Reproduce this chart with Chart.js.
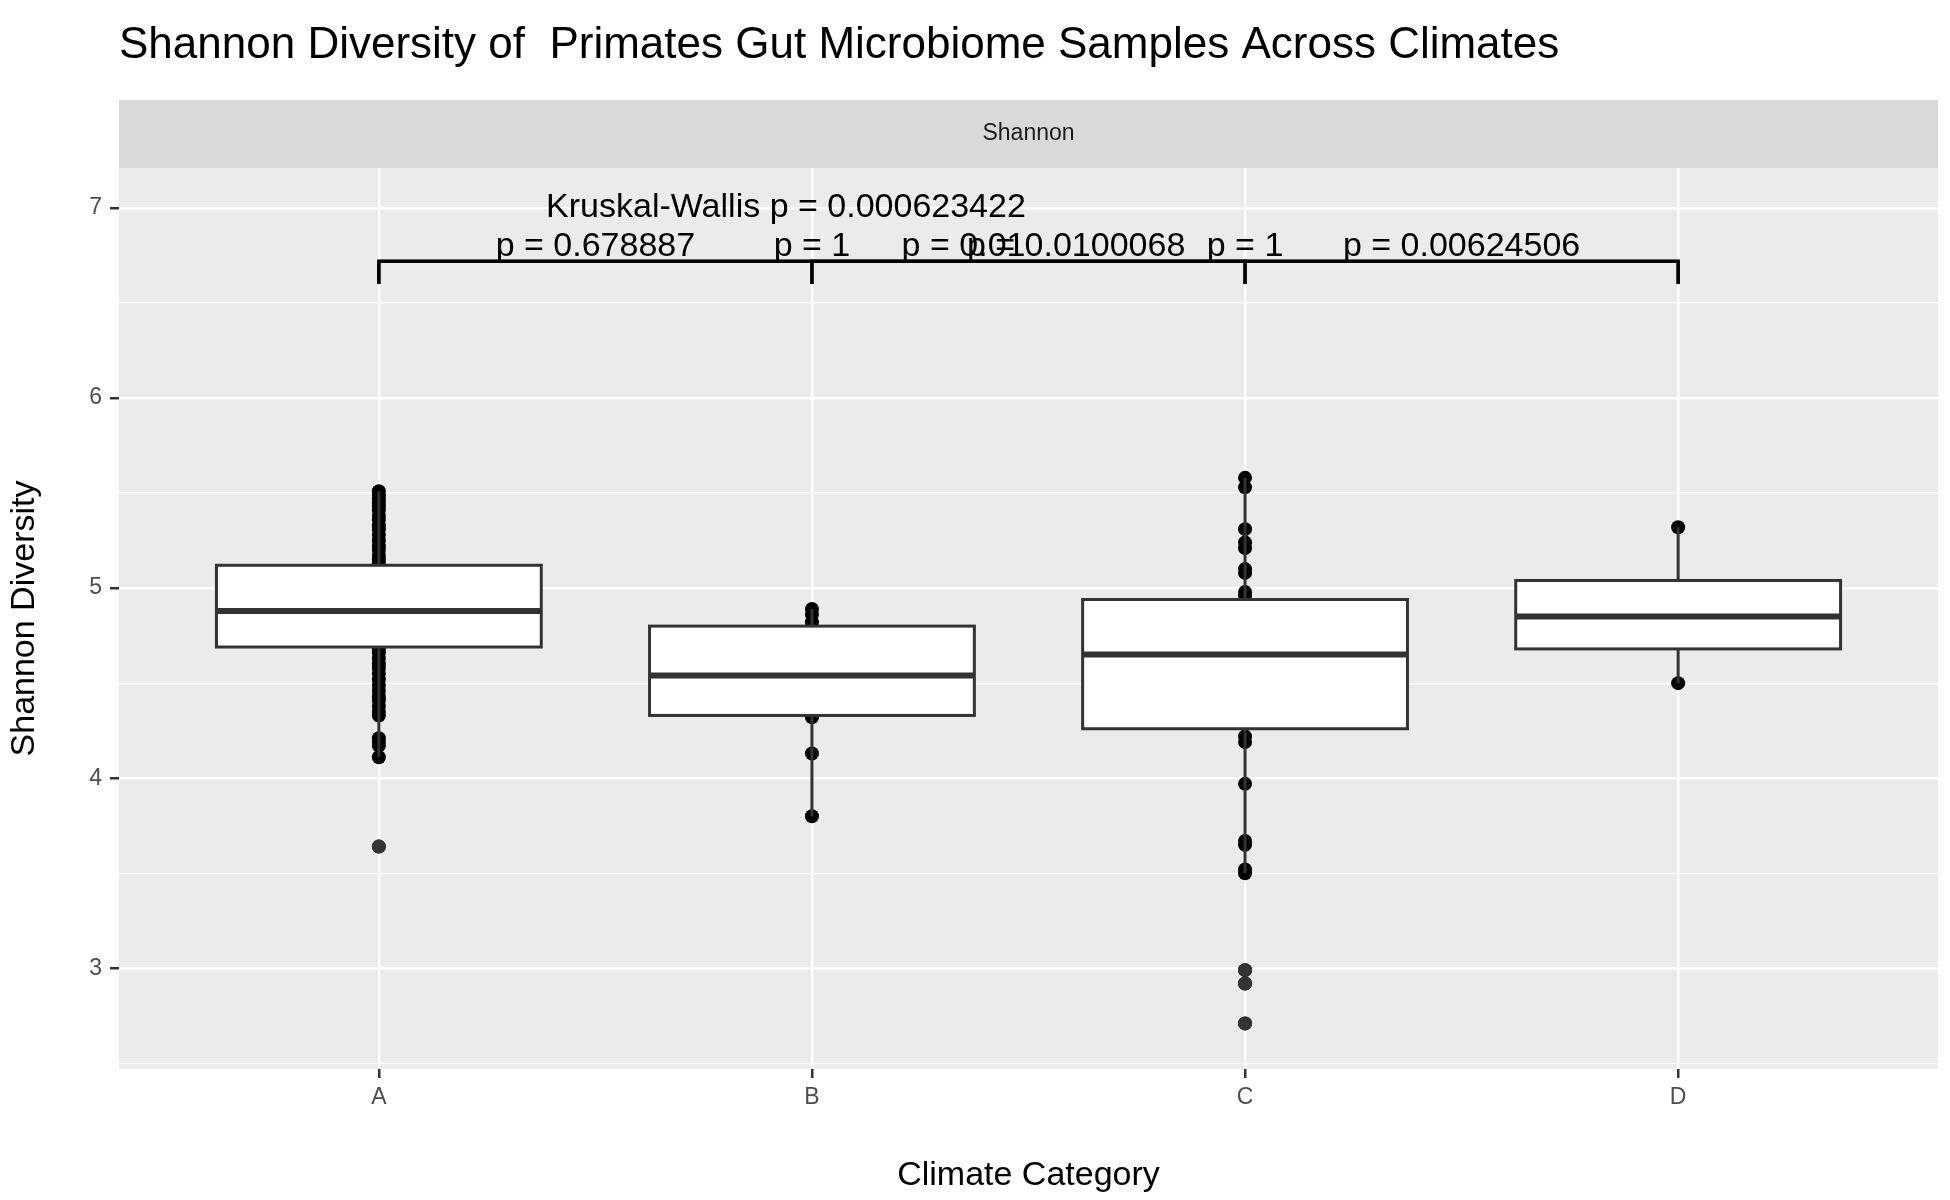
<!DOCTYPE html>
<html>
<head>
<meta charset="utf-8">
<script src="https://cdn.jsdelivr.net/npm/chart.js@4"></script>
<style>
  body { margin: 0; background: #fff; }
</style>
</head>
<body>
<canvas id="shannonChart" width="1950" height="1200"></canvas>
<script>
const categories = ['A', 'B', 'C', 'D'];
// box stats per category: [low whisker, q1, median, q3, high whisker]
const boxStats = [
  [4.11, 4.69, 4.88, 5.12, 5.51],
  [3.80, 4.33, 4.54, 4.80, 4.89],
  [3.50, 4.26, 4.65, 4.94, 5.58],
  [4.50, 4.68, 4.85, 5.04, 5.32]
];
const outliers = [[3.64], [], [2.99, 2.92, 2.71], []];
const pointsA = [5.51, 5.49, 5.47, 5.45, 5.43, 5.41, 5.38, 5.36, 5.33, 5.31, 5.28, 5.25, 5.22, 5.20, 5.17, 5.15, 5.13,
  4.68, 4.66, 4.63, 4.60, 4.58, 4.55, 4.52, 4.49, 4.46, 4.43, 4.41, 4.38, 4.35, 4.33, 4.21, 4.19, 4.17, 4.11, 3.64];
const pointsB = [4.89, 4.86, 4.82, 4.32, 4.13, 3.80];
const pointsC = [5.58, 5.53, 5.31, 5.24, 5.21, 5.10, 5.08, 4.98, 4.96, 4.22, 4.19, 3.97, 3.67, 3.65, 3.52, 3.50, 2.99, 2.92, 2.71];
const pointsD = [5.32, 4.50];
// significance brackets: [from, to] category index (1-based), label, label x position
const comparisons = [[1, 2], [1, 3], [1, 4], [2, 3], [2, 4], [3, 4]];
const pLabels = ['p = 0.678887', 'p = 1', 'p = 0.01', 'p = 0.0100068', 'p = 1', 'p = 0.00624506'];
const pLabelX = [1.5, 2.0, 2.35, 2.61, 3.0, 3.5];
const bracketY = 6.72, bracketTip = 6.60, pLabelY = 6.72;
const kruskalLabel = 'Kruskal-Wallis p = 0.000623422';
const kruskalX = 1.94, kruskalY = 7.0;

const allPoints = [pointsA, pointsB, pointsC, pointsD];
const pointData = [];
allPoints.forEach((arr, i) => arr.forEach(v => pointData.push({x: i + 1, y: v})));
const outlierData = [];
outliers.forEach((arr, i) => arr.forEach(v => outlierData.push({x: i + 1, y: v})));

const font = '"Liberation Sans", Arial, sans-serif';

const decorations = {
  id: 'decorations',
  beforeDraw(chart) {
    const {ctx, chartArea: a} = chart;
    ctx.save();
    ctx.fillStyle = '#EBEBEB';
    ctx.fillRect(a.left, a.top, a.right - a.left, a.bottom - a.top);
    ctx.fillStyle = '#D9D9D9';
    ctx.fillRect(a.left, a.top - 68, a.right - a.left, 68);
    ctx.fillStyle = '#1A1A1A';
    ctx.font = '23px ' + font;
    ctx.textAlign = 'center';
    ctx.textBaseline = 'middle';
    ctx.fillText('Shannon', (a.left + a.right) / 2, a.top - 34);
    ctx.fillStyle = '#000';
    ctx.font = '44px ' + font;
    ctx.textAlign = 'left';
    ctx.fillText('Shannon Diversity of  Primates Gut Microbiome Samples Across Climates', a.left, 46);
    ctx.restore();
  },
  afterDatasetsDraw(chart) {
    const {ctx} = chart;
    const xs = chart.scales.x, ys = chart.scales.y;
    const half = (xs.getPixelForValue(1.375) - xs.getPixelForValue(1));
    ctx.save();
    ctx.strokeStyle = '#333333';
    ctx.lineWidth = 3;
    boxStats.forEach((s, i) => {
      const cx = xs.getPixelForValue(i + 1);
      ctx.beginPath();
      ctx.moveTo(cx, ys.getPixelForValue(s[0]));
      ctx.lineTo(cx, ys.getPixelForValue(s[1]));
      ctx.moveTo(cx, ys.getPixelForValue(s[3]));
      ctx.lineTo(cx, ys.getPixelForValue(s[4]));
      ctx.stroke();
      const top = ys.getPixelForValue(s[3]), bot = ys.getPixelForValue(s[1]);
      ctx.fillStyle = '#fff';
      ctx.fillRect(cx - half, top, half * 2, bot - top);
      ctx.lineWidth = 3;
      ctx.strokeRect(cx - half, top, half * 2, bot - top);
      ctx.lineWidth = 6;
      ctx.beginPath();
      const m = ys.getPixelForValue(s[2]);
      ctx.moveTo(cx - half, m);
      ctx.lineTo(cx + half, m);
      ctx.stroke();
      ctx.lineWidth = 3;
    });
    ctx.fillStyle = '#333333';
    outlierData.forEach(p => {
      ctx.beginPath();
      ctx.arc(xs.getPixelForValue(p.x), ys.getPixelForValue(p.y), 7, 0, Math.PI * 2);
      ctx.fill();
    });
    // brackets
    ctx.strokeStyle = '#000';
    ctx.lineWidth = 3;
    const by = ys.getPixelForValue(bracketY), bt = ys.getPixelForValue(bracketTip);
    comparisons.forEach(c => {
      const x1 = xs.getPixelForValue(c[0]), x2 = xs.getPixelForValue(c[1]);
      ctx.beginPath();
      ctx.moveTo(x1, bt);
      ctx.lineTo(x1, by);
      ctx.lineTo(x2, by);
      ctx.lineTo(x2, bt);
      ctx.stroke();
    });
    ctx.fillStyle = '#000';
    ctx.font = '34px ' + font;
    ctx.textAlign = 'center';
    ctx.textBaseline = 'bottom';
    pLabels.forEach((t, i) => {
      ctx.fillText(t, xs.getPixelForValue(pLabelX[i]), ys.getPixelForValue(pLabelY) + 2);
    });
    ctx.textBaseline = 'middle';
    ctx.fillText(kruskalLabel, xs.getPixelForValue(kruskalX), ys.getPixelForValue(kruskalY));
    ctx.restore();
  }
};

new Chart(document.getElementById('shannonChart'), {
  type: 'scatter',
  data: {
    datasets: [{
      label: 'samples',
      data: pointData,
      backgroundColor: '#000',
      borderWidth: 0,
      pointRadius: 7
    }]
  },
  options: {
    responsive: false,
    animation: false,
    devicePixelRatio: 1,
    layout: { padding: { top: 168, right: 12, left: 0, bottom: 0 } },
    plugins: { legend: { display: false }, tooltip: { enabled: false } },
    scales: {
      x: {
        type: 'linear', min: 0.4, max: 4.6,
        afterBuildTicks: s => { s.ticks = categories.map((c, i) => ({value: i + 1})); },
        afterFit: s => { s.height = 131; },
        ticks: { callback: v => categories[v - 1], color: '#4D4D4D', font: { size: 23, family: font }, padding: 6 },
        grid: { color: '#fff', lineWidth: 2.5, tickColor: '#333', tickLength: 9, drawOnChartArea: true },
        border: { display: false },
        title: { display: true, text: 'Climate Category', color: '#000', font: { size: 34, family: font }, padding: { top: 4 } }
      },
      y: {
        min: 2.47, max: 7.21,
        afterBuildTicks: s => { s.ticks = [2.5, 3, 3.5, 4, 4.5, 5, 5.5, 6, 6.5, 7].map(v => ({value: v})); },
        afterFit: s => { s.width = 119; },
        ticks: { callback: v => Number.isInteger(v) ? v : '', color: '#4D4D4D', font: { size: 23, family: font }, padding: 8 },
        grid: {
          color: '#fff',
          lineWidth: c => Number.isInteger(c.tick && c.tick.value) ? 2.5 : 1.2,
          tickColor: c => Number.isInteger(c.tick && c.tick.value) ? '#333' : 'rgba(0,0,0,0)',
          tickLength: 9
        },
        border: { display: false },
        title: { display: true, text: 'Shannon Diversity', color: '#000', font: { size: 34, family: font }, padding: { bottom: 6 } }
      }
    }
  },
  plugins: [decorations]
});
</script>
</body>
</html>
